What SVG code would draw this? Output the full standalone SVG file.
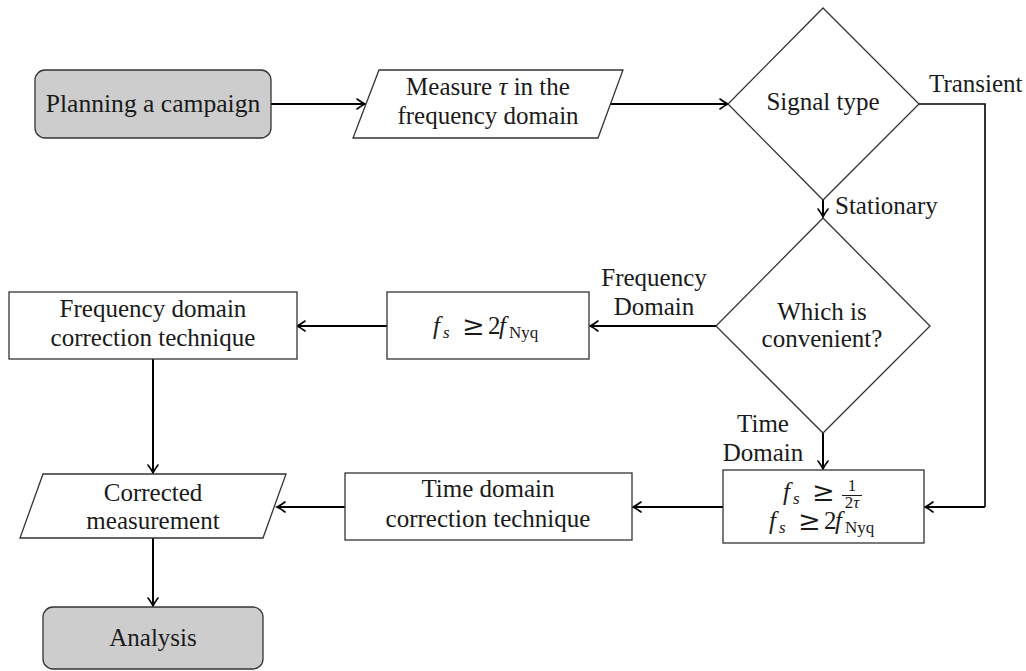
<svg xmlns="http://www.w3.org/2000/svg" width="1026" height="671" viewBox="0 0 1026 671" font-family="Liberation Serif, serif">
  <style>
    text { font-family: 'Liberation Serif', serif; font-size: 25px; fill: #1a1a1a; }
    .c { text-anchor: middle; }
    .node { fill: #ffffff; stroke: #333333; stroke-width: 1.3; }
    .term { fill: #cdcdcd; stroke: #333333; stroke-width: 1.3; }
    .edge { fill: none; stroke: #000000; stroke-width: 2; marker-end: url(#arrow); }
    .line { fill: none; stroke: #000000; stroke-width: 1.6; }
    .it { font-style: italic; }
    .sub { font-size: 17px; }
    .rel { font-family: 'DejaVu Serif', serif; font-size: 27px; }
  </style>
  <defs>
    <marker id="arrow" markerUnits="userSpaceOnUse" markerWidth="14" markerHeight="14" viewBox="-10 -7 12 14" refX="0" refY="0" orient="auto">
      <path d="M -8 -5 Q -3 -1.2 0 0 Q -3 1.2 -8 5" fill="none" stroke="#000" stroke-width="1.6" stroke-linecap="round"/>
    </marker>
  </defs>

  <rect width="1026" height="671" fill="#ffffff"/>

  <!-- connectors -->
  <g id="connectors">
    <line class="edge" x1="271" y1="104" x2="365" y2="104"/>
    <line class="edge" x1="611" y1="104" x2="728" y2="104"/>
    <line class="edge" x1="823" y1="200" x2="823" y2="217"/>
    <polyline class="line" points="919,104 985,104 985,507"/>
    <polyline class="edge" points="985,507 925,507"/>
    <line class="edge" x1="716" y1="326" x2="590" y2="326"/>
    <line class="edge" x1="387" y1="326" x2="297" y2="326"/>
    <line class="edge" x1="823" y1="433" x2="823" y2="469"/>
    <line class="edge" x1="723" y1="507" x2="633" y2="507"/>
    <line class="edge" x1="345" y1="507" x2="277" y2="507"/>
    <line class="edge" x1="153" y1="359" x2="153" y2="473"/>
    <line class="edge" x1="153" y1="538" x2="153" y2="606"/>

    <text x="929" y="92">Transient</text>
    <text x="835" y="214">Stationary</text>
    <text class="c" x="654" y="286">Frequency</text>
    <text class="c" x="654" y="315">Domain</text>
    <text class="c" x="763" y="432">Time</text>
    <text class="c" x="763" y="461">Domain</text>
  </g>

  <!-- start terminal -->
  <g id="planning">
    <rect class="term" x="35" y="70" width="236" height="68" rx="10"/>
    <text class="c" x="153" y="112" style="font-size:25.6px">Planning a campaign</text>
  </g>

  <!-- input: measurement of tau -->
  <g id="measure">
    <polygon class="node" points="379,70 623,70 598,138 353,138"/>
    <text class="c" x="488" y="95">Measure <tspan class="it">τ</tspan> in the</text>
    <text class="c" x="488" y="124">frequency domain</text>
  </g>

  <!-- decision: signal type -->
  <g id="signal-type">
    <polygon class="node" points="823,8 919,104 823,200 728,104"/>
    <text class="c" x="823" y="110">Signal type</text>
  </g>

  <!-- decision: domain -->
  <g id="which-domain">
    <polygon class="node" points="823,218 930,326 823,433 716,326"/>
    <text class="c" x="822" y="320">Which is</text>
    <text class="c" x="822" y="347">convenient?</text>
  </g>

  <!-- sampling condition, frequency branch -->
  <g id="nyquist-freq">
    <rect class="node" x="387" y="292" width="202" height="67"/>
    <text y="334"><tspan class="it" x="433">f</tspan><tspan class="it sub" x="443" dy="4">s</tspan><tspan class="rel" x="462" dy="-3">≥</tspan><tspan x="488" dy="-1">2</tspan><tspan class="it" x="499">f</tspan><tspan class="sub" x="509" dy="4">Nyq</tspan></text>
  </g>

  <!-- frequency domain correction -->
  <g id="freq-correction">
    <rect class="node" x="9" y="292" width="288" height="67"/>
    <text class="c" x="153" y="317">Frequency domain</text>
    <text class="c" x="153" y="346">correction technique</text>
  </g>

  <!-- sampling conditions, time branch -->
  <g id="nyquist-time">
    <rect class="node" x="723" y="470" width="201" height="73"/>
    <text y="500"><tspan class="it" x="783">f</tspan><tspan class="it sub" x="793" dy="4">s</tspan><tspan class="rel" x="812" dy="-3">≥</tspan></text>
    <text class="sub c" x="852" y="491">1</text>
    <line x1="842" y1="495.5" x2="862" y2="495.5" stroke="#1a1a1a" stroke-width="1"/>
    <text class="sub c" x="852" y="508">2<tspan class="it">τ</tspan></text>
    <text y="529"><tspan class="it" x="769">f</tspan><tspan class="it sub" x="779" dy="4">s</tspan><tspan class="rel" x="798" dy="-3">≥</tspan><tspan x="824" dy="-1">2</tspan><tspan class="it" x="835">f</tspan><tspan class="sub" x="845" dy="4">Nyq</tspan></text>
  </g>

  <!-- time domain correction -->
  <g id="time-correction">
    <rect class="node" x="345" y="473" width="287" height="67"/>
    <text class="c" x="488" y="497">Time domain</text>
    <text class="c" x="488" y="527">correction technique</text>
  </g>

  <!-- output: corrected measurement -->
  <g id="corrected">
    <polygon class="node" points="43,474 286,474 263,538 20,538"/>
    <text class="c" x="153" y="501">Corrected</text>
    <text class="c" x="153" y="529">measurement</text>
  </g>

  <!-- end terminal -->
  <g id="analysis">
    <rect class="term" x="43" y="607" width="220" height="62" rx="10"/>
    <text class="c" x="153" y="646">Analysis</text>
  </g>
</svg>
